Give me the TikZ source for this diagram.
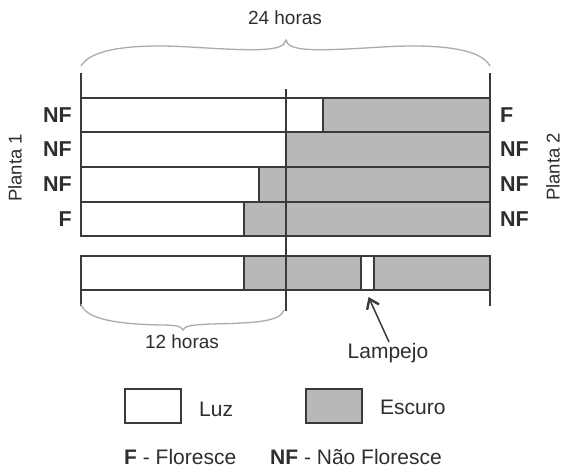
\documentclass[tikz,border=0pt]{standalone}
\usepackage{fontspec}
\setmainfont{Liberation Sans}
\usetikzlibrary{arrows.meta}
\definecolor{lc}{HTML}{3A3A3A}
\definecolor{gf}{HTML}{B8B8B8}
\definecolor{bc}{HTML}{ABABAB}
\definecolor{tc}{HTML}{2E2E2E}
\tikzset{
  box/.style={draw=lc, line width=1.5pt},
  lt/.style={box, fill=white},
  dk/.style={box, fill=gf},
  tick/.style={draw=lc, line width=1.5pt},
  mid/.style={draw=lc, line width=2.6pt},
  brace/.style={draw=bc, line width=1.3pt},
  lbl/.style={text=tc, inner sep=0pt, font=\fontsize{21}{25}\selectfont},
  sml/.style={text=tc, inner sep=0pt, font=\fontsize{19}{23}\selectfont},
  bl/.style={text=tc, inner sep=0pt, font=\fontsize{21.5}{25}\selectfont\bfseries},
  arr/.style={draw=lc, line width=1.5pt, -{Straight Barb[length=9pt,width=13pt,line width=2.4pt]}}
}
\begin{document}
\begin{tikzpicture}[x=1pt,y=-1pt]
\useasboundingbox[fill=white] (0,0) rectangle (563,467);

% top brace
\draw[brace] (81,66) .. controls (92,47) and (140,44) .. (190,47)
  .. controls (255,51) and (284,52) .. (286,40)
  .. controls (288,52) and (317,51) .. (382,47)
  .. controls (432,44) and (480,47) .. (490,66);
\node[sml] (h24) at (285,18) {24 horas};

% ticks
\draw[tick] (81,73) -- (81,98);
\draw[tick] (490,73) -- (490,98);
\draw[tick] (81,290) -- (81,306);
\draw[tick] (490,290) -- (490,306);

% rows
\draw[lt] (81,98) rectangle (323,132);  \draw[dk] (323,98) rectangle (490,132);
\draw[lt] (81,132) rectangle (286,167); \draw[dk] (286,132) rectangle (490,167);
\draw[lt] (81,167) rectangle (259,202); \draw[dk] (259,167) rectangle (490,202);
\draw[lt] (81,202) rectangle (244,236); \draw[dk] (244,202) rectangle (490,236);

% bottom bar
\draw[lt] (81,256) rectangle (244,290);
\draw[dk] (244,256) rectangle (361,290);
\draw[lt] (361,256) rectangle (374,290);
\draw[dk] (374,256) rectangle (490,290);

% middle line
\draw[mid] (286,89) -- (286,311);

% bottom brace
\draw[brace] (81,304) .. controls (86,320) and (120,324) .. (160,325)
  .. controls (176,325) and (181,326) .. (183,330)
  .. controls (185,326) and (190,325) .. (210,324)
  .. controls (255,323) and (280,322) .. (284,310);
\node[sml] (h12) at (182,342) {12 horas};

% left labels
\node[bl, anchor=east] (l1) at (72,115) {NF};
\node[bl, anchor=east] (l2) at (72,149.5) {NF};
\node[bl, anchor=east] (l3) at (72,184.5) {NF};
\node[bl, anchor=east] (l4) at (72,219) {F};
% right labels
\node[bl, anchor=west] (r1) at (500,115) {F};
\node[bl, anchor=west] (r2) at (500,149.5) {NF};
\node[bl, anchor=west] (r3) at (500,184.5) {NF};
\node[bl, anchor=west] (r4) at (500,219) {NF};

\node[lbl, rotate=90, font=\fontsize{18.5}{22}\selectfont] (p1) at (15,168) {Planta 1};
\node[lbl, rotate=90, font=\fontsize{18.5}{22}\selectfont] (p2) at (553,167) {Planta 2};

% flash arrow
\coordinate (flash) at (368.5,297);
\node[lbl] (lamp) at (388,353) {Lampejo};
\coordinate (tail) at (389,342);
\draw[arr] (tail) -- (flash);

% legend
\draw[lt] (125,389) rectangle (181,423);
\node[lbl, anchor=west] (luz) at (199,409) {Luz};
\draw[dk] (306,389) rectangle (362,423);
\node[lbl, anchor=west] (esc) at (380,407) {Escuro};

\node[lbl, anchor=base west] (kf) at (124,464) {\textbf{F} - Floresce};
\node[lbl, anchor=base west] (knf) at (270,464) {\textbf{NF} - Não Floresce};
\end{tikzpicture}
\end{document}
